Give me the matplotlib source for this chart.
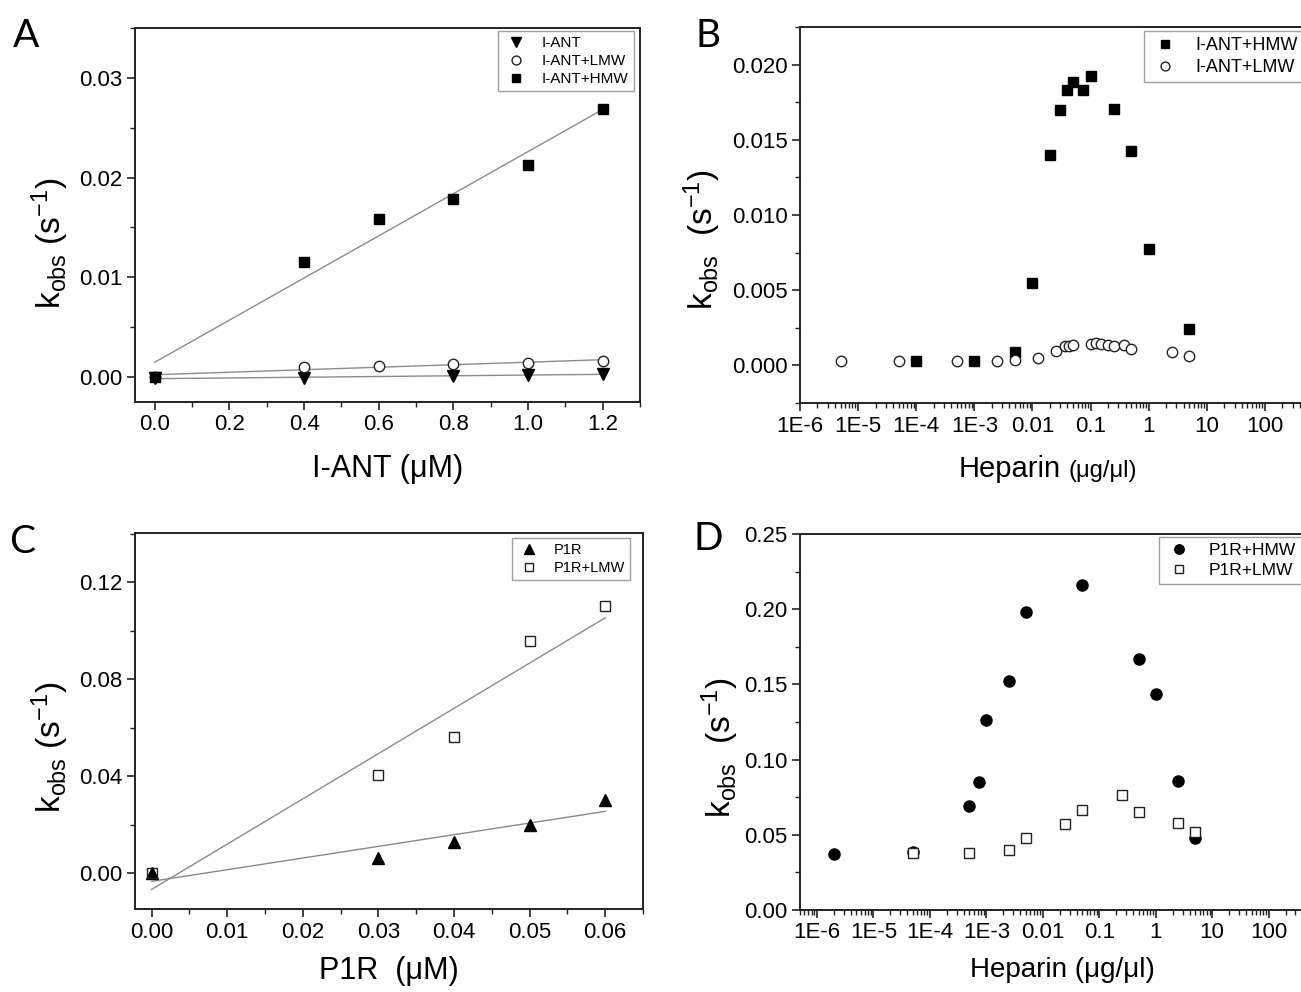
import numpy as np
import matplotlib
matplotlib.use("Agg")
import matplotlib.pyplot as plt
from matplotlib.ticker import (AutoMinorLocator, FixedLocator, FixedFormatter,
                               LogLocator, NullFormatter, FormatStrFormatter)

plt.rcParams['font.family'] = ['Liberation Sans', 'DejaVu Sans']
plt.rcParams['mathtext.default'] = 'regular'

# ---- panel A: I-ANT titration ----
ant_conc = [0.0, 0.4, 0.6, 0.8, 1.0, 1.2]
ant_hmw = [0.0, 0.0115, 0.0158, 0.0179, 0.0213, 0.0269]
ant_lmw = [0.0, 0.00097, 0.00113, 0.0013, 0.0014, 0.00163]
ant_only_conc = [0.0, 0.4, 0.8, 1.0, 1.2]
ant_only = [-0.0001, -0.0001, 0.00013, 0.00017, 0.00033]

# ---- panel B: heparin dependence, I-ANT ----
b_hmw_hep = [1e-4, 1e-3, 5e-3, 0.01, 0.02, 0.03, 0.04, 0.05, 0.075, 0.1,
             0.25, 0.5, 1, 5]
b_hmw = [0.00027, 0.00027, 0.00089, 0.00547, 0.01396, 0.01695, 0.01828,
         0.01882, 0.01833, 0.01926, 0.01702, 0.01423, 0.00771, 0.00242]
b_lmw_hep = [5e-6, 5e-5, 5e-4, 2.5e-3, 5e-3, 0.0125, 0.025, 0.036, 0.042,
             0.05, 0.1, 0.125, 0.15, 0.2, 0.25, 0.375, 0.5, 2.5, 5]
b_lmw = [0.00031, 0.00031, 0.00031, 0.00031, 0.00038, 0.00051, 0.00093,
         0.00126, 0.00126, 0.00133, 0.00142, 0.00146, 0.0014, 0.00133,
         0.00129, 0.00133, 0.00109, 0.00086, 0.0006]

# ---- panel C: P1R titration ----
p1r_conc = [0.0, 0.03, 0.04, 0.05, 0.06]
p1r = [0.0, 0.0062, 0.0128, 0.020, 0.0303]
p1r_lmw = [0.0, 0.0406, 0.056, 0.0958, 0.1101]

# ---- panel D: heparin dependence, P1R ----
d_hmw_hep = [2e-6, 5e-5, 5e-4, 7.5e-4, 1e-3, 2.5e-3, 5e-3, 0.05, 0.5, 1,
             2.5, 5]
d_hmw = [0.037, 0.0385, 0.0692, 0.0854, 0.1264, 0.1524, 0.1979, 0.2158,
         0.1666, 0.1435, 0.0858, 0.0481]
d_lmw_hep = [5e-5, 5e-4, 2.5e-3, 5e-3, 0.025, 0.05, 0.25, 0.5, 2.5, 5]
d_lmw = [0.0382, 0.0377, 0.0399, 0.0477, 0.057, 0.0665, 0.0765, 0.0654,
         0.0581, 0.0519]

log_ticks = [1e-6, 1e-5, 1e-4, 1e-3, 1e-2, 1e-1, 1, 10, 100]
log_labels = ['1E-6', '1E-5', '1E-4', '1E-3', '0.01', '0.1', '1', '10', '100']

W, H = 1301, 992
fig = plt.figure(figsize=(W / 100, H / 100), dpi=100)


def px_axes(left, top, right, bottom):
    return fig.add_axes([left / W, 1 - bottom / H, (right - left) / W,
                         (bottom - top) / H])


def style(ax, log=False):
    for s in ax.spines.values():
        s.set_linewidth(1.4)
        s.set_color('#222222')
    ax.tick_params(which='major', direction='out', length=6, width=1.2,
                   labelsize=16, pad=3, colors='#222222', labelcolor='black')
    ax.tick_params(which='minor', direction='out', length=3.5, width=1.0,
                   colors='#222222')
    ax.yaxis.set_minor_locator(AutoMinorLocator(2))
    if log:
        ax.set_xscale('log')
        ax.xaxis.set_major_locator(FixedLocator(log_ticks))
        ax.xaxis.set_major_formatter(FixedFormatter(log_labels))
        ax.xaxis.set_minor_locator(LogLocator(base=10, subs=np.arange(2, 10),
                                              numticks=100))
        ax.xaxis.set_minor_formatter(NullFormatter())
    else:
        ax.xaxis.set_minor_locator(AutoMinorLocator(2))


def fit_line(ax, x, y):
    k, b = np.polyfit(x, y, 1)
    xs = np.array([min(x), max(x)])
    ax.plot(xs, k * xs + b, color='#8a8a8a', lw=1.0, zorder=1)


def legend(ax, fs, left, top):
    # upper-left corner of the legend box, in picture pixels
    leg = ax.legend(loc='upper left', bbox_to_anchor=(left / W, 1 - top / H),
                    bbox_transform=fig.transFigure, borderaxespad=0,
                    fontsize=fs, frameon=True, fancybox=False,
                    edgecolor='#8a8a8a', handletextpad=0.9,
                    labelspacing=0.25, borderpad=0.35, handlelength=1.6,
                    markerscale=0.85)
    leg.get_frame().set_linewidth(1.0)


ylab = r'k$_{obs}$ (s$^{-1}$)'
ylab2 = r'k$_{obs}$  (s$^{-1}$)'
open_kw = dict(mfc='white', mec='#222222', mew=1.0)

# ---------- A ----------
axA = px_axes(135, 28, 640, 402)
style(axA)
fit_line(axA, ant_conc, ant_hmw)
fit_line(axA, ant_conc, ant_lmw)
fit_line(axA, ant_only_conc, ant_only)
axA.plot(ant_only_conc, ant_only, 'v', color='black', ms=8, ls='none',
         label='I-ANT', zorder=3)
axA.plot(ant_conc, ant_lmw, 'o', ms=7.5, ls='none', label='I-ANT+LMW',
         zorder=3, **open_kw)
axA.plot(ant_conc, ant_hmw, 's', color='black', ms=7, ls='none',
         label='I-ANT+HMW', zorder=3)
axA.set_xlim(-0.053, 1.3)
axA.set_ylim(-0.0025, 0.035)
axA.set_xticks([0.0, 0.2, 0.4, 0.6, 0.8, 1.0, 1.2])
axA.set_yticks([0.00, 0.01, 0.02, 0.03])
axA.xaxis.set_major_formatter(FormatStrFormatter('%.1f'))
axA.yaxis.set_major_formatter(FormatStrFormatter('%.2f'))
axA.set_xlabel('I-ANT (\u03bcM)', fontsize=22, labelpad=13)
legend(axA, 11, 498, 31)

# ---------- B ----------
axB = px_axes(800, 27, 1323, 403)
style(axB, log=True)
axB.plot(b_hmw_hep, b_hmw, 's', color='black', ms=7, ls='none',
         label='I-ANT+HMW', zorder=3)
axB.plot(b_lmw_hep, b_lmw, 'o', ms=7.5, ls='none', label='I-ANT+LMW',
         zorder=3, **open_kw)
axB.set_xlim(1e-6, 1e3)
axB.set_ylim(-0.0025, 0.0225)
axB.set_yticks([0.000, 0.005, 0.010, 0.015, 0.020])
axB.yaxis.set_major_formatter(FormatStrFormatter('%.3f'))
legend(axB, 13, 1144, 31)
fig.text(1061 / W, 1 - 477 / H, 'Heparin', ha='right', va='baseline',
         fontsize=21)
fig.text(1068 / W, 1 - 477 / H, '(\u03bcg/\u03bcl)', ha='left',
         va='baseline', fontsize=17)

# ---------- C ----------
axC = px_axes(135, 533, 643, 909)
style(axC)
fit_line(axC, p1r_conc, p1r_lmw)
fit_line(axC, p1r_conc, p1r)
axC.plot(p1r_conc, p1r, '^', color='black', ms=8, ls='none', label='P1R',
         zorder=3)
axC.plot(p1r_conc, p1r_lmw, 's', ms=7, ls='none', label='P1R+LMW',
         zorder=4, mfc='none', mec='#222222', mew=1.0)
axC.set_xlim(-0.0022, 0.065)
axC.set_ylim(-0.0149, 0.1404)
axC.set_xticks([0.00, 0.01, 0.02, 0.03, 0.04, 0.05, 0.06])
axC.set_yticks([0.00, 0.04, 0.08, 0.12])
axC.xaxis.set_major_formatter(FormatStrFormatter('%.2f'))
axC.yaxis.set_major_formatter(FormatStrFormatter('%.2f'))
axC.set_xlabel('P1R  (\u03bcM)', fontsize=22, labelpad=10)
legend(axC, 10.5, 512, 538)

# ---------- D ----------
axD = px_axes(800, 534, 1325, 910)
style(axD, log=True)
axD.plot(d_hmw_hep, d_hmw, 'o', color='black', ms=8, ls='none',
         label='P1R+HMW', zorder=3)
axD.plot(d_lmw_hep, d_lmw, 's', ms=7, ls='none', label='P1R+LMW',
         zorder=4, **open_kw)
axD.set_xlim(5e-7, 1e3)
axD.set_ylim(0, 0.25)
axD.set_yticks([0.00, 0.05, 0.10, 0.15, 0.20, 0.25])
axD.yaxis.set_major_formatter(FormatStrFormatter('%.2f'))
axD.set_xlabel('Heparin (\u03bcg/\u03bcl)', fontsize=20, labelpad=10)
legend(axD, 12.5, 1159, 537)

# y labels, placed by hand like the original
fig.text(50 / W, 1 - 243 / H, ylab, rotation=90, ha='center', va='center',
         fontsize=24)
fig.text(702 / W, 1 - 240 / H, ylab2, rotation=90, ha='center', va='center',
         fontsize=24)
fig.text(50 / W, 1 - 747 / H, ylab, rotation=90, ha='center', va='center',
         fontsize=24)
fig.text(720 / W, 1 - 748 / H, ylab2, rotation=90, ha='center', va='center',
         fontsize=24)

# panel letters
for lab, x, y in [('A', 26, 36), ('B', 708, 36), ('C', 22, 542), ('D', 708, 539)]:
    fig.text(x / W, 1 - y / H, lab, ha='center', va='center', fontsize=28,
             family=['Lato', 'DejaVu Sans'])

fig.savefig('out.png', dpi=100)
